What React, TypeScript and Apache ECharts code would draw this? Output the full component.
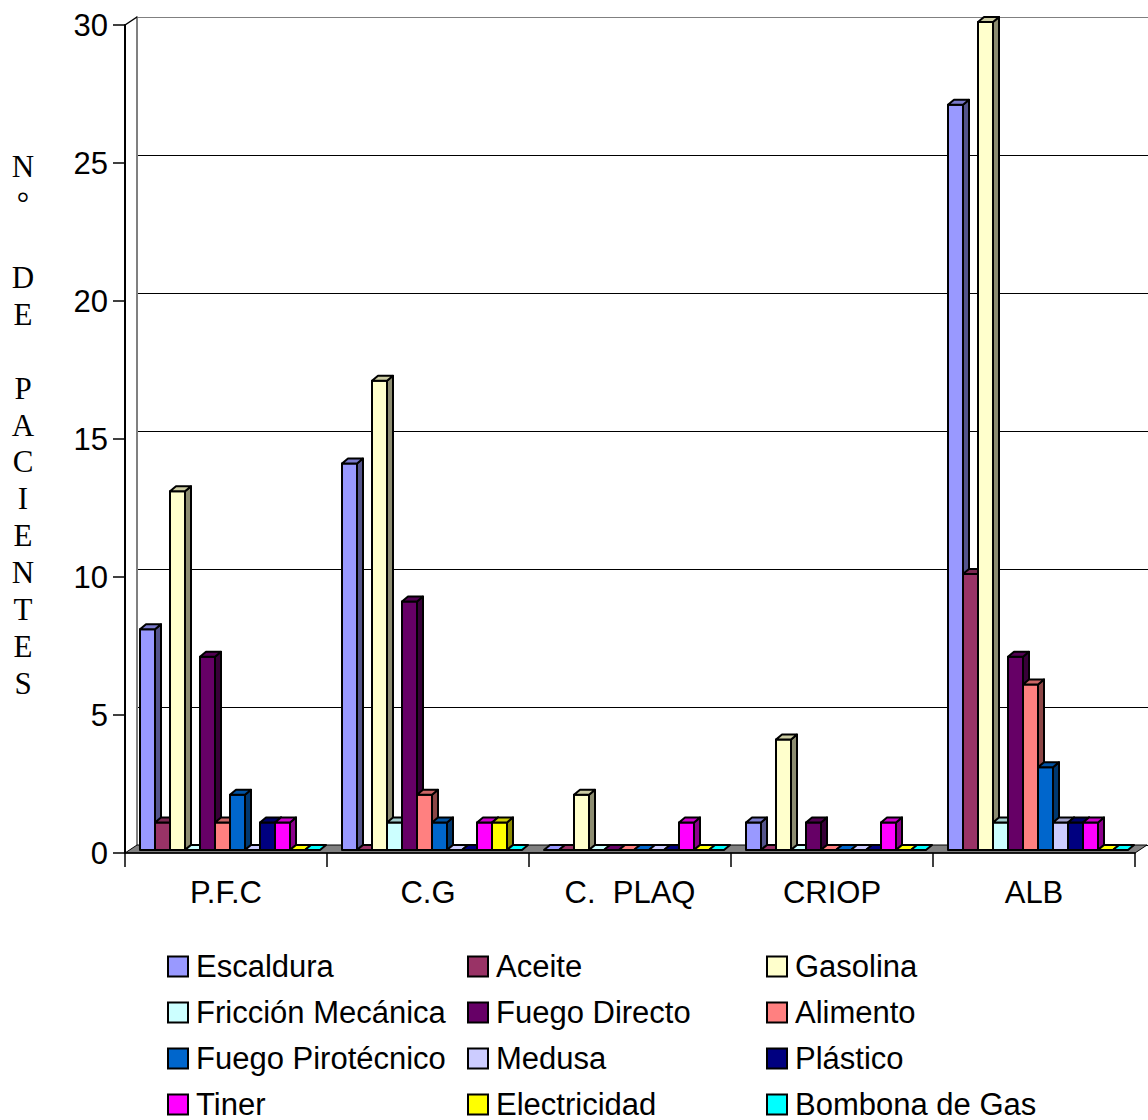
import React, { useEffect, useRef } from "react";
import * as echarts from "echarts";

// Causes of burns per hospital unit
const categories = ["P.F.C", "C.G", "C.  PLAQ", "CRIOP", "ALB"];

const seriesNames = [
  "Escaldura",
  "Aceite",
  "Gasolina",
  "Fricción Mecánica",
  "Fuego Directo",
  "Alimento",
  "Fuego Pirotécnico",
  "Medusa",
  "Plástico",
  "Tiner",
  "Electricidad",
  "Bombona de Gas",
];

const escaldura = [8, 14, 0, 1, 27];
const aceite = [1, 0, 0, 0, 10];
const gasolina = [13, 17, 2, 4, 30];
const friccionMecanica = [0, 1, 0, 0, 1];
const fuegoDirecto = [7, 9, 0, 1, 7];
const alimento = [1, 2, 0, 0, 6];
const fuegoPirotecnico = [2, 1, 0, 0, 3];
const medusa = [0, 0, 0, 0, 1];
const plastico = [1, 0, 0, 0, 1];
const tiner = [1, 1, 1, 1, 1];
const electricidad = [0, 1, 0, 0, 0];
const bombonaGas = [0, 0, 0, 0, 0];

const seriesValues = [
  escaldura,
  aceite,
  gasolina,
  friccionMecanica,
  fuegoDirecto,
  alimento,
  fuegoPirotecnico,
  medusa,
  plastico,
  tiner,
  electricidad,
  bombonaGas,
];

const seriesColors = [
  "#9999FF",
  "#993366",
  "#FFFFCC",
  "#CCFFFF",
  "#660066",
  "#FF8080",
  "#0066CC",
  "#CCCCFF",
  "#000080",
  "#FF00FF",
  "#FFFF00",
  "#00FFFF",
];

const yTicks = { min: 0, max: 30, interval: 5 };

// Legend columns (series indexes, read top-to-bottom)
const legendColumns = [
  [0, 3, 6, 9],
  [1, 4, 7, 10],
  [2, 5, 8, 11],
];

// Layout of the pseudo-3D box
const FRONT = { left: 125, top: 25, width: 1010, height: 828 };
const BACK = { left: 137, top: 17, width: 1011, height: 828 };
const BARS = { left: 125, top: 22, width: 1010, height: 828 };
const DEPTH_X = 6;
const DEPTH_Y = -5;
const FONT = "'Liberation Sans', Arial, sans-serif";
const FONT_SIZE = 31;

function shade(hex: string, f: number): string {
  const n = parseInt(hex.slice(1), 16);
  const r = Math.round(((n >> 16) & 255) * f);
  const g = Math.round(((n >> 8) & 255) * f);
  const b = Math.round((n & 255) * f);
  return `rgb(${r},${g},${b})`;
}

function makeRenderItem(seriesIndex: number, color: string) {
  const topColor = shade(color, 0.8);
  const sideColor = shade(color, 0.55);
  return (params: any, api: any) => {
    const cat = api.value(0);
    const v = api.value(1);
    const base = api.coord([cat, 0]);
    const top = api.coord([cat, v]);
    const band = api.size([1, 0])[0];
    const unit = (band * 15) / 202;
    const x0 = base[0] - band / 2 + unit + seriesIndex * unit;
    const w = unit;
    const yT = top[1];
    const yB = base[1];
    const stroke = { stroke: "#000", lineWidth: 2, lineJoin: "round" };
    const children: any[] = [];
    if (yB - yT > 0.5) {
      children.push({
        type: "polygon",
        shape: {
          points: [
            [x0 + w, yT],
            [x0 + w + DEPTH_X, yT + DEPTH_Y],
            [x0 + w + DEPTH_X, yB + DEPTH_Y],
            [x0 + w, yB],
          ],
        },
        style: { fill: sideColor, ...stroke },
      });
      children.push({
        type: "rect",
        shape: { x: x0, y: yT, width: w, height: yB - yT },
        style: { fill: color, ...stroke },
      });
    }
    children.push({
      type: "polygon",
      shape: {
        points: [
          [x0, yT],
          [x0 + DEPTH_X, yT + DEPTH_Y],
          [x0 + w + DEPTH_X, yT + DEPTH_Y],
          [x0 + w, yT],
        ],
      },
      style: { fill: yB - yT > 0.5 ? topColor : color, ...stroke },
    });
    return { type: "group", children };
  };
}

export default function App() {
  const ref = useRef<HTMLDivElement>(null);

  useEffect(() => {
    document.body.style.margin = "0";
    const chart = echarts.init(ref.current!, null, { renderer: "svg" });

    const series = seriesNames.map((name, i) => ({
      name,
      type: "custom",
      xAxisIndex: 2,
      yAxisIndex: 2,
      z: 5,
      itemStyle: { color: seriesColors[i] },
      encode: { x: 0, y: 1 },
      data: seriesValues[i].map((v, c) => [c, v]),
      renderItem: makeRenderItem(i, seriesColors[i]),
    }));

    const legendLeft = [167, 467, 766];
    const legends = legendColumns.map((col, ci) => ({
      orient: "vertical",
      left: legendLeft[ci],
      top: 951,
      padding: 0,
      itemWidth: 20,
      itemHeight: 20,
      itemGap: 15,
      icon: "rect",
      selectedMode: false,
      itemStyle: { borderColor: "#000", borderWidth: 2 },
      textStyle: {
        fontFamily: FONT,
        fontSize: FONT_SIZE,
        lineHeight: 31,
        color: "#000",
        padding: [0, 0, 0, 3],
      },
      data: col.map((i) => seriesNames[i]),
    }));

    const floorY = FRONT.top + FRONT.height;
    const backY = BACK.top + BACK.height;
    const frontRight = FRONT.left + FRONT.width;

    const option: any = {
      animation: false,
      backgroundColor: "#fff",
      grid: [
        { ...FRONT, containLabel: false },
        { ...BACK, containLabel: false },
        { ...BARS, containLabel: false },
      ],
      xAxis: [
        {
          gridIndex: 0,
          type: "category",
          data: categories,
          z: 10,
          axisLine: { show: true, lineStyle: { color: "#000", width: 1.5 } },
          axisTick: { show: true, length: 14, lineStyle: { color: "#000", width: 1.5 } },
          axisLabel: { fontFamily: FONT, fontSize: FONT_SIZE, color: "#000", margin: 24 },
          splitLine: { show: false },
        },
        {
          gridIndex: 1,
          type: "category",
          data: categories,
          show: false,
        },
        {
          gridIndex: 2,
          type: "category",
          data: categories,
          show: false,
        },
      ],
      yAxis: [
        {
          gridIndex: 0,
          type: "value",
          ...yTicks,
          z: 10,
          axisLine: { show: true, lineStyle: { color: "#000", width: 2 } },
          axisTick: { show: true, length: 12, lineStyle: { color: "#000", width: 1.5 } },
          axisLabel: { fontFamily: FONT, fontSize: FONT_SIZE, color: "#000", margin: 17 },
          splitLine: { show: false },
        },
        {
          gridIndex: 1,
          type: "value",
          ...yTicks,
          axisLine: { show: true, lineStyle: { color: "#808080", width: 2 } },
          axisTick: { show: false },
          axisLabel: { show: false },
          splitLine: {
            show: true,
            lineStyle: {
              color: ["#000", "#000", "#000", "#000", "#000", "#000", "#808080"],
              width: 1.2,
            },
          },
        },
        {
          gridIndex: 2,
          type: "value",
          ...yTicks,
          show: false,
        },
      ],
      legend: legends,
      graphic: [
        {
          type: "polygon",
          z: 1,
          silent: true,
          shape: {
            points: [
              [FRONT.left, floorY],
              [BACK.left, backY],
              [BACK.left + BACK.width - 1, backY],
              [frontRight, floorY],
            ],
          },
          style: { fill: "#808080", stroke: "#000", lineWidth: 1 },
        },
        {
          type: "line",
          z: 20,
          silent: true,
          shape: { x1: FRONT.left, y1: FRONT.top, x2: BACK.left, y2: BACK.top },
          style: { stroke: "#000", lineWidth: 1.5 },
        },
        {
          type: "text",
          z: 20,
          silent: true,
          x: 23,
          y: 425,
          style: {
            text: ["N", "°", " ", "D", "E", " ", "P", "A", "C", "I", "E", "N", "T", "E", "S"].join("\n"),
            fontFamily: "'Liberation Serif', 'Times New Roman', serif",
            fontSize: 31,
            lineHeight: 36.9,
            fill: "#000",
            align: "center",
            verticalAlign: "middle",
          },
        },
      ],
      series,
    };

    chart.setOption(option);
    return () => chart.dispose();
  }, []);

  return <div ref={ref} style={{ width: 1148, height: 1120 }} />;
}
